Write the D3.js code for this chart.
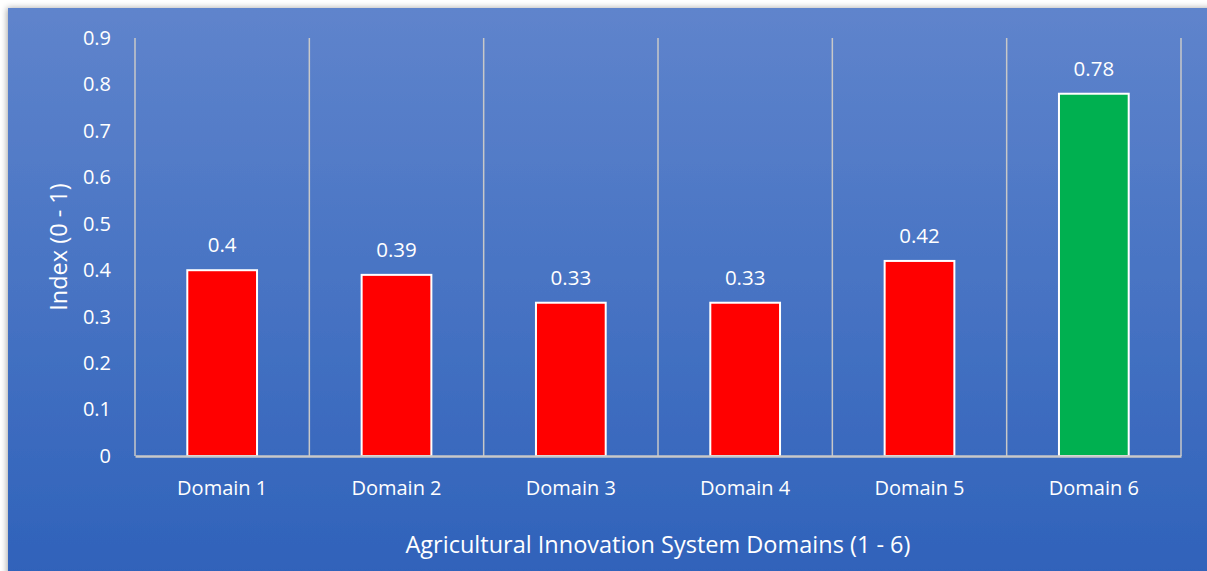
<!DOCTYPE html>
<html>
<head>
<meta charset="utf-8">
<script src="https://cdn.jsdelivr.net/npm/d3@7"></script>
<style>
  body { margin: 0; background: #fff; }
  text { font-family: 'Open Sans', 'Noto Sans', sans-serif; fill: #fff; }
</style>
</head>
<body>
<svg width="1207" height="571"></svg>
<script>
// chart data
let domains = ['Domain 1', 'Domain 2', 'Domain 3', 'Domain 4', 'Domain 5', 'Domain 6'];
let indexValues = [0.4, 0.39, 0.33, 0.33, 0.42, 0.78];
let barColors = ['#ff0000', '#ff0000', '#ff0000', '#ff0000', '#ff0000', '#00b050'];
let yTicks = [0, 0.1, 0.2, 0.3, 0.4, 0.5, 0.6, 0.7, 0.8, 0.9];

let svg = d3.select('svg'),
  margin = { top: 38, right: 26, bottom: 115, left: 135 },
  width = +svg.attr('width') - margin.left - margin.right,
  height = +svg.attr('height') - margin.top - margin.bottom;

// background with gradient
let defs = svg.append('defs');
let grad = defs.append('linearGradient')
  .attr('id', 'bg')
  .attr('x1', 0).attr('y1', 0).attr('x2', 0).attr('y2', 1);
grad.append('stop').attr('offset', '0%').attr('stop-color', '#5f84cc');
grad.append('stop').attr('offset', '100%').attr('stop-color', '#2f62ba');

let shadow = defs.append('filter').attr('id', 'sh').attr('x', -0.05).attr('y', -0.05).attr('width', 1.1).attr('height', 1.1);
shadow.append('feDropShadow').attr('dx', -1).attr('dy', 0).attr('stdDeviation', 3).attr('flood-color', '#000').attr('flood-opacity', 0.35);

svg.append('rect')
  .attr('x', 8).attr('y', 8)
  .attr('width', 1207).attr('height', 571)
  .attr('fill', 'url(#bg)')
  .attr('filter', 'url(#sh)');

let g = svg.append('g').attr('transform', `translate(${margin.left}, ${margin.top})`);

// scales
let x = d3.scaleBand()
  .domain(domains)
  .range([0, width])
  .paddingInner(0.6)
  .paddingOuter(0.3);

let xGrid = d3.scaleBand().domain(domains).range([0, width]);

let y = d3.scaleLinear()
  .domain([0, 0.9])
  .range([height, 0]);

// vertical gridlines at category boundaries
g.append('g')
  .selectAll('line')
  .data(domains.concat(['end']))
  .join('line')
  .attr('x1', (d, i) => i < domains.length ? xGrid(d) : width)
  .attr('x2', (d, i) => i < domains.length ? xGrid(d) : width)
  .attr('y1', 0)
  .attr('y2', height)
  .attr('stroke', '#c8c8c8')
  .attr('stroke-width', 1.5);

// y axis labels
let yAxis = g.append('g')
  .call(d3.axisLeft(y).tickValues(yTicks).tickFormat(d => d3.format('')(+d.toFixed(1))).tickSize(0).tickPadding(24));
yAxis.select('.domain').remove();
yAxis.selectAll('text')
  .attr('fill', '#fff')
  .style('font-size', '20px');

// bars
g.append('g')
  .selectAll('rect')
  .data(indexValues)
  .join('rect')
  .attr('x', (d, i) => x(domains[i]))
  .attr('y', d => y(d))
  .attr('width', x.bandwidth())
  .attr('height', d => height - y(d))
  .attr('fill', (d, i) => barColors[i])
  .attr('stroke', '#fff')
  .attr('stroke-width', 2);

// value labels
g.append('g')
  .selectAll('text')
  .data(indexValues)
  .join('text')
  .attr('x', (d, i) => x(domains[i]) + x.bandwidth() / 2)
  .attr('y', d => y(d) - 18)
  .attr('text-anchor', 'middle')
  .style('font-size', '20.5px')
  .text(d => d);

// x axis
let xAxis = g.append('g')
  .attr('transform', `translate(0, ${height})`)
  .call(d3.axisBottom(x).tickSize(0).tickPadding(25));
xAxis.select('.domain')
  .attr('stroke', '#c8c8c8')
  .attr('stroke-width', 2.5);
xAxis.selectAll('text')
  .attr('fill', '#fff')
  .style('font-size', '20px');

// axis titles
svg.append('text')
  .attr('x', margin.left + width / 2)
  .attr('y', 553)
  .attr('text-anchor', 'middle')
  .style('font-size', '23.5px')
  .text('Agricultural Innovation System Domains (1 - 6)');

svg.append('text')
  .attr('transform', `translate(67, ${margin.top + height / 2}) rotate(-90)`)
  .attr('text-anchor', 'middle')
  .style('font-size', '23.5px')
  .text('Index (0 - 1)');
</script>
</body>
</html>
